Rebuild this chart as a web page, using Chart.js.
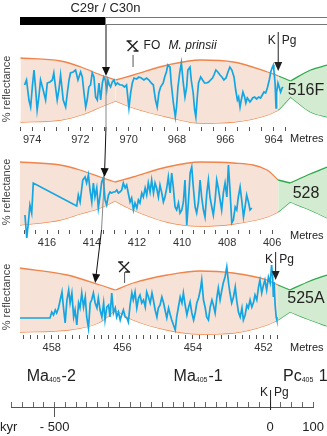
<!DOCTYPE html>
<html lang="en">
<head>
<meta charset="UTF-8">
<title>Reflectance cycles across the K/Pg boundary</title>
<style>
    body {
        margin: 0;
        background: #fff;
        font-family: "Liberation Sans", Arial, sans-serif;
    }
    #wrap {
        position: relative;
        width: 327px;
        height: 436px;
        overflow: hidden;
    }
    #wrap canvas {
        position: absolute;
        left: 0;
    }
</style>
</head>
<body>
<div id="wrap">
    <canvas id="c516" width="327" height="147" style="top:0px"></canvas>
    <canvas id="c528" width="327" height="125" style="top:125px"></canvas>
    <canvas id="c525" width="327" height="125" style="top:230px"></canvas>
    <canvas id="ckyr" width="327" height="76" style="top:360px"></canvas>
    <canvas id="links" width="327" height="436" style="top:0px"></canvas>
</div>

<script src="https://cdn.jsdelivr.net/npm/chart.js"></script>
<script>
// ---- Site 516F ----
var depth516 = [974.31,974.23,974.13,974.06,973.99,973.92,973.86,973.79,973.72,973.65,
    973.54,973.44,973.37,973.26,973.16,973.10,973.03,972.96,972.89,972.82,
    972.71,972.61,972.54,972.47,972.41,972.30,972.20,972.10,971.99,971.92,
    971.85,971.78,971.72,971.65,971.58,971.51,971.44,971.37,971.30,971.23,
    971.16,971.09,971.03,970.97,970.91,970.86,970.80,970.75,970.68,970.61,
    970.54,970.47,970.36,970.27,970.17,970.09,969.99,969.92,969.85,969.78,
    969.67,969.58,969.48,969.37,969.26,969.16,969.07,968.98,968.89,968.82,
    968.75,968.68,968.57,968.51,968.44,968.38,968.29,968.24,968.15,968.07,
    968.02,967.96,967.89,967.82,967.74,967.67,967.60,967.55,967.46,967.41,
    967.33,967.27,967.22,967.16,967.11,967.02,966.94,966.86,966.77,966.69,
    966.61,966.53,966.47,966.39,966.31,966.22,966.14,966.06,965.97,965.89,
    965.81,965.73,965.64,965.57,965.50,965.45,965.39,965.34,965.27,965.20,
    965.15,965.09,965.03,964.98,964.92,964.87,964.79,964.70,964.62,964.54,
    964.47,964.40,964.33,964.26,964.18,964.12,964.05,964.01,963.99,963.94,
    963.90,963.88,963.82,963.76,963.71,963.65,963.61];
var refl516 = [42,47,27,20,40,57,40,17,30,47,
    37,27,44,45,47,54,40,27,37,52,
    27,20,34,47,54,55,57,47,55,50,
    34,20,27,40,42,54,50,30,27,44,
    27,44,50,47,37,47,42,40,45,47,
    42,44,42,42,40,42,19,34,44,49,
    48,50,49,47,49,47,44,42,27,20,
    34,40,44,50,55,62,60,44,24,10,
    20,40,54,64,44,30,40,57,60,47,
    34,17,10,30,44,50,47,44,44,45,
    47,49,52,57,55,52,50,47,49,55,
    60,57,50,37,27,30,20,27,35,30,
    24,29,27,25,27,29,30,28,30,29,
    32,35,34,39,47,55,60,62,57,44,
    19,34,44,39,35,39,40];
var env516Depth = [974.48,972.82,971.98,971.16,970.54,969.80,968.39,967.02,965.66,964.25,963.80,963.30,962.47,961.77];
var env516Top   = [69,66,60,52,47,52,62,67,65,55,51,46,57,62];
var env516Bot   = [5,7,12,20,26,19,10,4,5,12,17,30,15,10];

// ---- Site 528 ----
var depth528 = [416.98,416.90,416.83,416.76,416.68,416.61,
    414.68,414.61,414.53,414.41,414.31,414.24,414.16,414.09,414.01,413.94,
    413.87,413.79,413.72,413.64,413.57,413.50,413.42,413.35,413.27,413.20,
    413.13,413.05,412.98,412.90,412.83,412.76,412.68,412.61,412.53,412.46,
    412.39,412.31,412.24,412.16,412.09,412.01,411.94,411.87,411.79,411.72,
    411.64,411.57,411.50,411.42,411.35,411.27,411.20,411.13,411.05,410.98,
    410.90,410.83,410.76,410.68,410.61,410.53,410.46,410.39,410.31,410.24,
    410.16,410.09,410.01,409.94,409.87,409.79,409.72,409.64,409.57,409.50,
    409.42,409.35,409.27,409.20,409.13,409.05,408.98,408.90,408.83,408.76,
    408.68,408.61,408.53,408.46,408.39,408.31,408.24,408.16,408.09,408.01,
    407.94,407.87,407.79,407.72,407.64,407.57,407.50,407.42,407.35,407.27,
    407.20,407.13,407.05,406.98,406.90];
var refl528 = [15,-8,7,25,17,47,
    24,35,28,50,53,47,55,40,28,47,
    33,42,22,35,48,52,30,25,35,38,
    37,38,38,40,37,38,40,47,42,45,
    37,28,32,20,27,22,30,27,37,33,
    42,35,47,38,50,37,47,42,33,45,
    37,28,33,42,53,37,57,43,23,20,
    27,17,20,28,50,5,27,57,63,43,
    23,17,28,50,33,20,13,37,50,33,
    23,15,30,50,42,30,20,38,47,33,
    65,40,7,10,23,20,33,43,30,13,
    23,35,28,20,22];
var env528Depth = [417.20,415.42,414.53,413.64,412.98,412.18,410.67,409.20,407.73,406.22,405.73,405.20,404.31,403.56];
var env528Top   = [68,65,60,53,48,53,63,68,67,60,50,47,56,63];
var env528Bot   = [5,10,16,22,29,20,8,4,6,13,18,28,20,12];

// ---- Site 525A ----
var depth525 = [458.90,458.05,458.00,457.95,457.90,457.86,457.81,457.76,457.71,457.67,
    457.62,457.57,457.52,457.48,457.43,457.38,457.34,457.29,457.24,457.20,
    457.15,457.10,457.05,457.01,456.96,456.91,456.87,456.82,456.77,456.72,
    456.68,456.63,456.58,456.53,456.49,456.44,456.39,456.35,456.30,456.25,
    456.20,456.16,456.11,456.06,456.02,455.97,455.92,455.87,455.83,455.78,
    455.73,455.69,455.64,455.59,455.54,455.50,455.45,455.40,455.35,455.31,
    455.26,455.21,455.16,455.12,455.07,455.02,454.98,454.93,454.88,454.83,
    454.79,454.74,454.69,454.64,454.60,454.55,454.50,454.46,454.41,454.36,
    454.31,454.27,454.22,454.17,454.12,454.08,454.03,453.98,453.93,453.89,
    453.84,453.79,453.75,453.70,453.65,453.61,453.56,453.51,453.46,453.42,
    453.37,453.32,453.28,453.23,453.18,453.14,453.09,453.04,452.99,452.95,
    452.90,452.85,452.80,452.76,452.71,452.66,452.61,452.57,452.52,452.47,
    452.43,452.38,452.33,452.28,452.24,452.19,452.14,452.10,452.05,452.00,
    451.96,451.91,451.86,451.81,451.77,451.74,451.72,451.70,451.67,451.64,
    451.62];
var refl525 = [17,17,23,20,25,22,27,35,43,28,
    12,35,45,32,42,18,25,10,32,27,
    42,28,38,18,7,32,35,42,32,27,
    37,25,18,32,15,28,30,18,42,22,
    27,18,23,15,20,25,18,17,13,30,
    42,35,43,27,37,40,32,35,28,43,
    38,32,42,35,25,18,27,30,38,32,
    25,17,27,20,15,10,5,18,28,38,
    32,42,30,20,28,33,22,15,23,32,
    37,45,55,35,27,18,15,28,35,30,
    22,38,47,35,45,52,58,68,52,42,
    32,38,48,35,23,18,27,15,20,30,
    27,35,28,33,40,35,48,55,42,50,
    55,45,58,52,70,58,38,53,30,18,
    15];
var env525Depth = [458.90,457.56,456.63,456.20,455.69,454.73,453.80,452.86,451.90,451.59,451.25,450.68,450.20];
var env525Top   = [67,60,50,45,52,60,64,62,55,50,45,54,60];
var env525Bot   = [3,5,13,25,15,5,1,2,10,15,23,15,9];

// tie points (depth) joined across the three holes, and reflectance at the arrow tips
var tie516 = 970.96;      // C29r/C30n reversal in 516F
var tie528 = 413.47;
var tie528Base = 413.60;
var tie525 = 456.77;
var tieTips = [51, 53, 52];

// K/Pg boundary and first occurrence of M. prinsii
var kpg516 = 963.83, kpg525 = 451.67;
var fo516 = 969.84, fo525 = 455.95;

// time scale, kyr relative to the K/Pg boundary
var kyrMin = -600, kyrMax = 100, kyrStep = 25;
var kyrTicks = [-500, 0, 100];
var kyrTickText = ['- 500', '0', '100'];
var cycleNames = ['Ma', 'Ma', 'Pc'];
var cycleSubs = ['405', '405', '405'];
var cycleNums = ['-2', '-1', ' 1'];
var cycleStarts = [-565, -224, 30];

var FONT = '"Liberation Sans", Arial, sans-serif';
var INK = '#222';
var ORANGE_LINE = '#f0844a', PEACH_FILL = '#f6e2d6';
var GREEN_LINE = '#2ea84c', GREEN_FILL = '#d3ebd0';
var BLUE = '#14a6e2';

Chart.defaults.font.family = FONT;
Chart.defaults.color = '#333';

function series(depths, values) {
    var n = Math.min(depths.length, values.length), pts = [];
    for (var i = 0; i < n; i++) pts.push({ x: depths[i], y: values[i] });
    return pts;
}

// each lobe of the envelope is its own pair of lines so the waists stay sharp
function envelopeSets(depths, top, bottom, cuts, greenFrom) {
    var edges = [0].concat(cuts, [depths.length - 1]);
    var sets = [];
    for (var i = 0; i < edges.length - 1; i++) {
        var a = edges[i], b = edges[i + 1];
        var green = a >= greenFrom;
        var line = green ? GREEN_LINE : ORANGE_LINE;
        sets.push({
            data: series(depths.slice(a, b + 1), top.slice(a, b + 1)),
            borderColor: line,
            backgroundColor: green ? GREEN_FILL : PEACH_FILL,
            borderWidth: 1.3,
            pointRadius: 0,
            fill: '+1',
            cubicInterpolationMode: 'monotone',
            order: 2
        });
        sets.push({
            data: series(depths.slice(a, b + 1), bottom.slice(a, b + 1)),
            borderColor: line,
            borderWidth: 1.3,
            pointRadius: 0,
            fill: false,
            cubicInterpolationMode: 'monotone',
            order: 2
        });
    }
    return sets;
}

function arrowHead(ctx, fx, fy, tx, ty) {
    var ang = Math.atan2(ty - fy, tx - fx), len = 9, half = 4;
    var bx = tx - len * Math.cos(ang), by = ty - len * Math.sin(ang);
    ctx.beginPath();
    ctx.moveTo(tx, ty);
    ctx.lineTo(bx + half * Math.sin(ang), by - half * Math.cos(ang));
    ctx.lineTo(bx - half * Math.sin(ang), by + half * Math.cos(ang));
    ctx.closePath();
    ctx.fill();
}

function kpgMark(ctx, x, lineTop, lineEnd, textY, arrow) {
    ctx.strokeStyle = INK;
    ctx.fillStyle = INK;
    ctx.lineWidth = 1;
    ctx.beginPath();
    ctx.moveTo(x + 0.5, lineTop);
    ctx.lineTo(x + 0.5, arrow ? lineEnd - 8 : lineEnd);
    ctx.stroke();
    if (arrow) arrowHead(ctx, x + 0.5, lineTop, x + 0.5, lineEnd);
    ctx.font = '12px ' + FONT;
    ctx.textBaseline = 'middle';
    ctx.textAlign = 'right';
    ctx.fillText('K', x - 2, textY);
    ctx.textAlign = 'left';
    ctx.fillText('Pg', x + 4, textY);
}

function foGlyph(ctx, cx, cy) {
    ctx.save();
    ctx.strokeStyle = INK;
    ctx.lineWidth = 1.4;
    ctx.beginPath();
    ctx.moveTo(cx - 5, cy - 5); ctx.lineTo(cx + 5, cy + 5);
    ctx.moveTo(cx + 5, cy - 5); ctx.lineTo(cx - 5, cy + 5);
    ctx.moveTo(cx - 6, cy - 5); ctx.lineTo(cx - 1, cy - 5);
    ctx.moveTo(cx + 1, cy + 5); ctx.lineTo(cx + 6, cy + 5);
    ctx.stroke();
    ctx.restore();
}

function panelDecor(cfg) {
    return {
        id: 'panelDecor',
        afterDraw: function (chart) {
            var ctx = chart.ctx, area = chart.chartArea;
            var xs = chart.scales.x, ys = chart.scales.y;
            ctx.save();
            ctx.fillStyle = INK;
            ctx.textBaseline = 'middle';

            ctx.font = '11px ' + FONT;
            ctx.textAlign = 'left';
            ctx.fillText('Metres', 290, area.bottom + cfg.metresDy);

            ctx.font = '16px ' + FONT;
            ctx.textAlign = 'center';
            ctx.fillText(cfg.site, 306, area.bottom - 36);

            ctx.save();
            ctx.translate(7, area.bottom - 38);
            ctx.rotate(-Math.PI / 2);
            ctx.font = '11px ' + FONT;
            ctx.fillStyle = '#444';
            ctx.fillText('% reflectance', 0, 0);
            ctx.restore();

            if (cfg.chron) {
                // polarity bar: reversed below the boundary, normal above
                var xb = xs.getPixelForValue(cfg.chron);
                ctx.fillStyle = '#000';
                ctx.fillRect(area.left, 17, xb - area.left, 8);
                ctx.strokeStyle = '#777';
                ctx.lineWidth = 1;
                ctx.beginPath();
                ctx.moveTo(xb, 17.5); ctx.lineTo(area.right, 17.5);
                ctx.moveTo(xb, 24.5); ctx.lineTo(area.right, 24.5);
                ctx.stroke();
                ctx.fillStyle = INK;
                ctx.font = '13px ' + FONT;
                ctx.textAlign = 'center';
                ctx.fillText('C29r / C30n', xb, 8);
            }

            if (cfg.fo) {
                var xf = xs.getPixelForValue(cfg.fo.depth);
                foGlyph(ctx, xf, cfg.fo.glyphY);
                ctx.strokeStyle = '#555';
                ctx.lineWidth = 1;
                ctx.beginPath();
                ctx.moveTo(xf + 0.5, cfg.fo.tickTop);
                ctx.lineTo(xf + 0.5, cfg.fo.tickBottom);
                ctx.stroke();
                if (cfg.fo.text) {
                    ctx.fillStyle = INK;
                    ctx.textAlign = 'left';
                    ctx.font = '12px ' + FONT;
                    ctx.fillText('FO', xf + 11, cfg.fo.glyphY);
                    ctx.font = 'italic 12px ' + FONT;
                    ctx.fillText('M. prinsii', xf + 36, cfg.fo.glyphY);
                }
            }

            if (cfg.kpg) {
                kpgMark(ctx, xs.getPixelForValue(cfg.kpg.depth), cfg.kpg.lineTop,
                    ys.getPixelForValue(cfg.kpg.tip), cfg.kpg.textY, true);
            }
            ctx.restore();
        }
    };
}

function panelChart(id, cfg) {
    var curve = {
        data: series(cfg.depths, cfg.refl),
        borderColor: BLUE,
        borderWidth: 1.7,
        pointRadius: 0,
        tension: 0,
        fill: false,
        clip: false,
        order: 0
    };
    return new Chart(document.getElementById(id), {
        type: 'line',
        data: {
            datasets: [curve].concat(envelopeSets(cfg.envDepth, cfg.envTop, cfg.envBot, cfg.cuts, cfg.greenFrom))
        },
        options: {
            responsive: false,
            animation: false,
            events: [],
            layout: { padding: { left: 20, right: 0, top: cfg.padTop, bottom: 0 } },
            plugins: { legend: { display: false }, tooltip: { enabled: false } },
            scales: {
                x: {
                    type: 'linear',
                    reverse: true,
                    min: cfg.xMin,
                    max: cfg.xMax,
                    afterFit: function (s) { s.height = 20; },
                    afterBuildTicks: function (s) {
                        s.ticks = s.ticks.filter(function (t) {
                            return t.value >= cfg.tickLo - 1e-6 && t.value <= cfg.tickHi + 1e-6;
                        });
                    },
                    border: { display: false },
                    grid: { drawOnChartArea: false, drawTicks: true, tickLength: 4, tickColor: '#555', tickWidth: 1 },
                    ticks: {
                        stepSize: cfg.step,
                        autoSkip: false,
                        maxRotation: 0,
                        minRotation: 0,
                        includeBounds: false,
                        padding: 2,
                        color: '#333',
                        font: { size: 11 },
                        callback: function (v) {
                            return Math.abs(v - 2 * Math.round(v / 2)) < 1e-6 ? String(Math.round(v)) : '';
                        }
                    }
                },
                y: { display: false, min: 0, max: 100 }
            }
        },
        plugins: [panelDecor(cfg)]
    });
}

var p516 = panelChart('c516', {
    site: '516F', depths: depth516, refl: refl516,
    envDepth: env516Depth, envTop: env516Top, envBot: env516Bot, cuts: [4, 10, 11], greenFrom: 10,
    xMin: 961.79, xMax: 974.5, tickLo: 963.5, tickHi: 974.5, step: 0.5, padTop: 27, metresDy: 12,
    chron: tie516,
    fo: { depth: fo516, glyphY: 46, tickTop: 55, tickBottom: 67, text: true },
    kpg: { depth: kpg516, lineTop: 32, tip: 56, textY: 41 }
});

var p528 = panelChart('c528', {
    site: '528', depths: depth528, refl: refl528,
    envDepth: env528Depth, envTop: env528Top, envBot: env528Bot, cuts: [4, 10, 11], greenFrom: 10,
    xMin: 403.56, xMax: 417.2, tickLo: 406, tickHi: 417, step: 0.5, padTop: 5, metresDy: 6
});

var p525 = panelChart('c525', {
    site: '525A', depths: depth525, refl: refl525,
    envDepth: env525Depth, envTop: env525Top, envBot: env525Bot, cuts: [3, 9, 10], greenFrom: 9,
    xMin: 450.2, xMax: 458.9, tickLo: 451.6, tickHi: 458.8, step: 0.2, padTop: 5, metresDy: 13,
    fo: { depth: fo525, glyphY: 37, tickTop: 42, tickBottom: 53, text: false },
    kpg: { depth: kpg525, lineTop: 22, tip: 55, textY: 30 }
});

// time axis in kyr
var kyrDecor = {
    id: 'kyrDecor',
    afterDraw: function (chart) {
        var ctx = chart.ctx, area = chart.chartArea, xs = chart.scales.x;
        ctx.save();
        ctx.fillStyle = INK;
        ctx.textBaseline = 'alphabetic';
        ctx.textAlign = 'left';
        for (var i = 0; i < cycleNames.length; i++) {
            var x = xs.getPixelForValue(cycleStarts[i]);
            ctx.font = '16px ' + FONT;
            ctx.fillText(cycleNames[i], x, 21);
            var w = ctx.measureText(cycleNames[i]).width;
            ctx.font = '7px ' + FONT;
            ctx.fillText(cycleSubs[i], x + w, 22);
            var w2 = ctx.measureText(cycleSubs[i]).width;
            ctx.font = '16px ' + FONT;
            ctx.fillText(cycleNums[i], x + w + w2 + 1, 21);
        }
        ctx.font = '13px ' + FONT;
        ctx.textBaseline = 'top';
        ctx.fillText('kyr', 0, area.bottom + 14);
        kpgMark(ctx, xs.getPixelForValue(0), 30, 50, 33, false);
        ctx.restore();
    }
};

var kyrChart = new Chart(document.getElementById('ckyr'), {
    type: 'line',
    data: { datasets: [] },
    options: {
        responsive: false,
        animation: false,
        events: [],
        layout: { padding: { left: 11.6, right: 11.6, top: 42, bottom: 0 } },
        plugins: { legend: { display: false }, tooltip: { enabled: false } },
        scales: {
            x: {
                type: 'linear',
                min: kyrMin,
                max: kyrMax,
                afterFit: function (s) { s.height = 29; },
                border: { display: true, color: '#555', width: 1 },
                grid: {
                    drawOnChartArea: true,
                    drawTicks: true,
                    tickLength: 10,
                    color: '#666',
                    tickColor: function (c) {
                        return c.tick && c.tick.value === kyrTicks[0] ? '#555' : 'rgba(0,0,0,0)';
                    }
                },
                ticks: {
                    stepSize: kyrStep,
                    autoSkip: false,
                    maxRotation: 0,
                    minRotation: 0,
                    padding: 3,
                    color: INK,
                    font: { size: 13 },
                    callback: function (v) {
                        var k = kyrTicks.indexOf(v);
                        return k >= 0 ? kyrTickText[k] : '';
                    }
                }
            },
            y: { display: false, min: 0, max: 1 }
        }
    },
    plugins: [kyrDecor]
});

// tie lines linking the reversal between the three holes
(function drawLinks() {
    var cv = document.getElementById('links');
    var ctx = cv.getContext('2d');
    var t1 = document.getElementById('c516').offsetTop;
    var t2 = document.getElementById('c528').offsetTop;
    var t3 = document.getElementById('c525').offsetTop;

    var x1 = p516.scales.x.getPixelForValue(tie516) + 0.5;
    var y1 = t1 + p516.scales.y.getPixelForValue(tieTips[0]);
    var b1 = t1 + p516.chartArea.bottom;
    var x2 = p528.scales.x.getPixelForValue(tie528) + 0.5;
    var y2 = t2 + p528.scales.y.getPixelForValue(tieTips[1]);
    var x2b = p528.scales.x.getPixelForValue(tie528Base) + 0.5;
    var b2 = t2 + p528.chartArea.bottom;
    var x3 = p525.scales.x.getPixelForValue(tie525);
    var y3 = t3 + p525.scales.y.getPixelForValue(tieTips[2]);

    function seg(color, ax, ay, bx, by) {
        ctx.strokeStyle = color;
        ctx.lineWidth = 1;
        ctx.beginPath();
        ctx.moveTo(ax, ay);
        ctx.lineTo(bx, by);
        ctx.stroke();
    }
    function toArrow(ax, ay, tx, ty) {
        var d = Math.hypot(tx - ax, ty - ay);
        seg('#111', ax, ay, tx - (tx - ax) * 8 / d, ty - (ty - ay) * 8 / d);
        ctx.fillStyle = '#111';
        arrowHead(ctx, ax, ay, tx, ty);
    }

    toArrow(x1, 25, x1, y1);
    seg('#888', x1, y1, x1, b1);
    toArrow(x1, b1, x2, y2);
    seg('#888', x2, y2, x2b, b2);
    toArrow(x2b, b2, x3, y3);
})();
</script>
</body>
</html>
